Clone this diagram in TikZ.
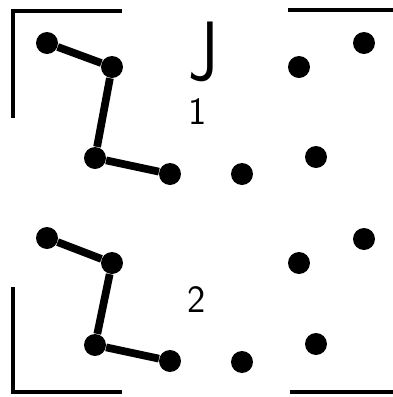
\documentclass[tikz,border=0pt]{standalone}
\begin{document}
\begin{tikzpicture}[x=0.02cm,y=-0.02cm,every node/.style={circle,fill,minimum size=0.44cm,inner sep=0pt}]
\useasboundingbox (0,0) rectangle (393,397);

\node (a1) at (47,43) {};
\node (a2) at (112,67) {};
\node (a3) at (95,158) {};
\node (a4) at (170,174) {};
\node (b1) at (47,238) {};
\node (b2) at (112,263) {};
\node (b3) at (95,345) {};
\node (b4) at (170,361) {};

\node (p1) at (242,174) {};
\node (p2) at (316,157) {};
\node (p3) at (299,67) {};
\node (p4) at (364,43) {};
\node (q1) at (242,362) {};
\node (q2) at (316,344) {};
\node (q3) at (299,263) {};
\node (q4) at (364,239) {};

\draw[line width=4.4pt] (a1) -- (a2) -- (a3) -- (a4);
\draw[line width=4.4pt] (b1) -- (b2) -- (b3) -- (b4);

\draw[line width=2.3pt] (122,11) -- (13,11) -- (13,118);
\draw[line width=2.3pt] (288,10) -- (393,10);
\draw[line width=2.3pt] (13,287) -- (13,392) -- (122,392);
\draw[line width=2.3pt] (290,392) -- (393,392);

\node[fill=none,xscale=0.8,font=\sffamily\fontsize{48}{48}\selectfont] (lj) at (203,52) {J};
\node[fill=none,font=\sffamily\fontsize{22}{22}\selectfont] (l1) at (198,112) {1};
\node[fill=none,font=\sffamily\fontsize{22}{22}\selectfont] (l2) at (197,300) {2};

\end{tikzpicture}
\end{document}
